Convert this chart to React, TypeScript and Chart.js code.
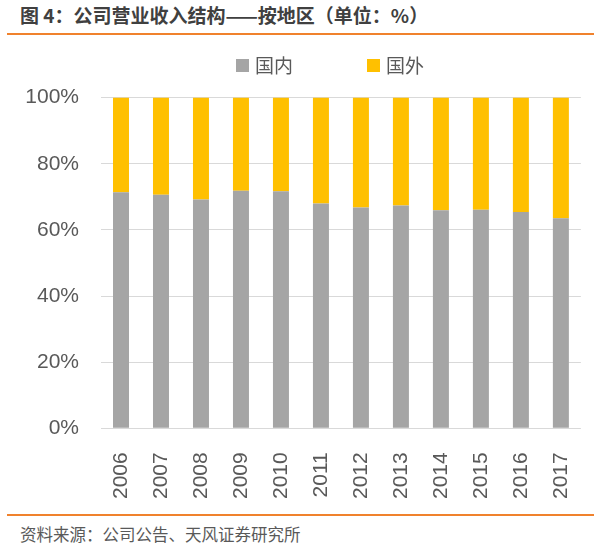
import React, { useEffect, useRef } from "react";
import { Chart, registerables } from "chart.js";

Chart.register(...registerables);

const years = ["2006", "2007", "2008", "2009", "2010", "2011", "2012", "2013", "2014", "2015", "2016", "2017"];
const domestic = [71.4, 70.6, 69.2, 71.8, 71.7, 68.0, 66.8, 67.4, 65.9, 66.1, 65.4, 63.5];
const foreign = [28.6, 29.4, 30.8, 28.2, 28.3, 32.0, 33.2, 32.6, 34.1, 33.9, 34.6, 36.5];
const yTicks = [0, 20, 40, 60, 80, 100];
const seriesNames = ["国内", "国外"];
const colors = ["#A5A5A5", "#FFC000"];
const titleText = "图 4：公司营业收入结构——按地区（单位：%）";
const sourceText = "资料来源：公司公告、天风证券研究所";

export default function App() {
  const ref = useRef<HTMLCanvasElement | null>(null);

  useEffect(() => {
    if (!ref.current) return;
    const chart = new Chart(ref.current, {
      type: "bar",
      data: {
        labels: years,
        datasets: [
          { label: seriesNames[0], data: domestic, backgroundColor: colors[0], barPercentage: 0.4, categoryPercentage: 1 },
          { label: seriesNames[1], data: foreign, backgroundColor: colors[1], barPercentage: 0.4, categoryPercentage: 1 },
        ],
      },
      options: {
        animation: false,
        responsive: false,
        maintainAspectRatio: false,
        layout: { padding: { left: 0, right: 22, top: 0, bottom: 0 } },
        plugins: { legend: { display: false }, tooltip: { enabled: false } },
        scales: {
          x: {
            stacked: true,
            grid: { display: false },
            border: { display: false },
            ticks: {
              minRotation: 90,
              maxRotation: 90,
              padding: 16,
              color: "#595959",
              font: { family: "Liberation Sans", size: 21 },
            },
            afterFit: (s: any) => { s.height = 81.7; },
          },
          y: {
            stacked: true,
            min: 0,
            max: 100,
            afterBuildTicks: (s: any) => { s.ticks = yTicks.map((v) => ({ value: v })); },
            grid: { color: "#D9D9D9", lineWidth: 1, drawTicks: false },
            border: { display: false },
            ticks: {
              padding: 22,
              color: "#595959",
              font: { family: "Liberation Sans", size: 21 },
              callback: (v: any) => v + "%",
            },
            afterFit: (s: any) => { s.width = 101; },
          },
        },
      },
    });
    return () => chart.destroy();
  }, []);

  const legendItem = (i: number, boxLeft: number) => (
    <div key={i} style={{ position: "absolute", left: boxLeft, top: 52, height: 26, display: "flex", alignItems: "center" }}>
      <div style={{ width: 13, height: 13, background: colors[i] }} />
      <span style={{ marginLeft: 6, fontSize: 19, color: "#595959", lineHeight: "26px" }}>{seriesNames[i]}</span>
    </div>
  );

  return (
    <div style={{ position: "absolute", left: 0, top: 0, width: 603, height: 552, background: "#fff", fontFamily: "'Noto Sans CJK SC', sans-serif" }}>
      <div style={{ position: "absolute", left: 20, top: 4, fontSize: 19, fontWeight: "bold", color: "#404040", lineHeight: "22px", whiteSpace: "nowrap" }}>{titleText}</div>
      <div style={{ position: "absolute", left: 7, top: 33, width: 587, height: 2, background: "#F0822D" }} />
      <canvas ref={ref} width={603} height={447} style={{ position: "absolute", left: 0, top: 63, width: 603, height: 447 }} />
      {legendItem(0, 236)}
      {legendItem(1, 367)}
      <div style={{ position: "absolute", left: 7, top: 514, width: 587, height: 2, background: "#F0822D" }} />
      <div style={{ position: "absolute", left: 20, top: 524, fontSize: 16.5, color: "#595959", lineHeight: "20px", whiteSpace: "nowrap" }}>{sourceText}</div>
    </div>
  );
}
